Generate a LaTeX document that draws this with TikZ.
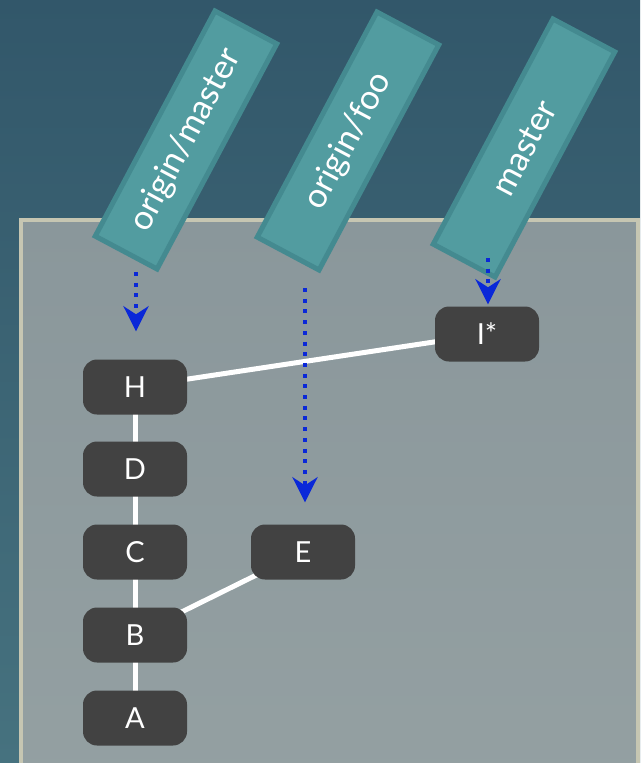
\documentclass[tikz,border=0pt]{standalone}
\usepackage{fontspec}
\setmainfont{Lato}
\usetikzlibrary{arrows.meta}
\definecolor{bgtop}{HTML}{32576A}
\definecolor{bgbot}{HTML}{46727F}
\definecolor{pantop}{HTML}{8A979B}
\definecolor{panbot}{HTML}{94A0A2}
\definecolor{panborder}{HTML}{C6C6B2}
\definecolor{nodegray}{HTML}{424242}
\definecolor{lblfill}{HTML}{529CA0}
\definecolor{lblborder}{HTML}{448A90}
\definecolor{ptrblue}{HTML}{0A28D8}
\pgfdeclarelayer{bg}
\pgfdeclarelayer{edges}
\pgfsetlayers{bg,edges,main}
\tikzset{
  commit/.style={rounded corners=14pt, fill=nodegray, minimum width=104pt, minimum height=55pt, inner sep=0pt, text=white, font=\fontsize{29}{32}\selectfont},
  branchlbl/.style={draw=lblborder, line width=5pt, fill=lblfill, minimum width=255pt, minimum height=70pt, inner sep=0pt, rotate=62, text=white, font=\fontsize{34}{38}\selectfont},
  edge/.style={draw=white, line width=5pt},
  ptr/.style={draw=ptrblue, line width=4pt, dash pattern=on 4pt off 6.7pt, -{Stealth[length=25pt,width=25pt,inset=8pt,fill=ptrblue]}}
}
\begin{document}
\begin{tikzpicture}[x=1pt,y=-1pt]
\useasboundingbox (0,0) rectangle (640,763);
\begin{pgfonlayer}{bg}
\shade[top color=bgtop, bottom color=bgbot] (0,0) rectangle (640,763);
\shade[top color=pantop, bottom color=panbot] (21,220) rectangle (638,790);
\draw[panborder, line width=4pt] (21,790) -- (21,220) -- (638,220) -- (638,790);
\end{pgfonlayer}
% commits
\node[commit] (H) at (135,387) {H};
\node[commit] (D) at (135,469) {D};
\node[commit] (C) at (135,552) {C};
\node[commit] (B) at (135,635) {B};
\node[commit] (A) at (135,718) {A};
\node[commit] (E) at (303,552) {E};
\node[commit] (I) at (487,334) {I*};
% edges
\begin{pgfonlayer}{edges}
\draw[edge] (H.center) -- (D.center);
\draw[edge] (D.center) -- (C.center);
\draw[edge] (C.center) -- (B.center);
\draw[edge] (B.center) -- (A.center);
\draw[edge] (B.center) -- (E.center);
\draw[edge] (H.center) -- (I.center);
\end{pgfonlayer}
% branch labels
\node[branchlbl] (om) at (186,140) {origin/master};
\node[branchlbl] (of) at (348,141) {origin/foo};
\node[branchlbl] (ms) at (524,148) {master};
% pointers
\coordinate (omS) at (136,272);
\coordinate (ofS) at (305,288);
\coordinate (msS) at (488,258);
\draw[ptr, shorten >=28pt] (omS) -- (omS |- H.north);
\draw[ptr, shorten >=22pt] (ofS) -- (ofS |- E.north);
\draw[ptr, shorten >=2pt] (msS) -- (msS |- I.north);
\end{tikzpicture}
\end{document}
